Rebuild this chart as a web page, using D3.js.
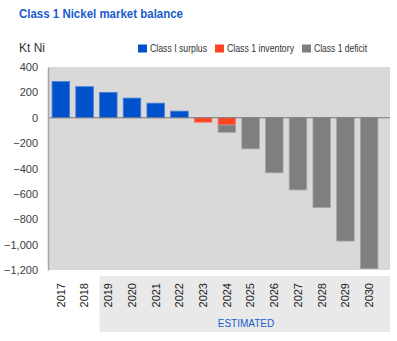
<!DOCTYPE html>
<html>
<head>
<meta charset="utf-8">
<script src="https://cdn.jsdelivr.net/npm/d3@7"></script>
<style>
  body { margin: 0; background: #fff; }
  svg { display: block; font-family: "Liberation Sans", Arial, sans-serif; }
</style>
</head>
<body>
<div id="chart"></div>
<script>
const years = ["2017","2018","2019","2020","2021","2022","2023","2024","2025","2026","2027","2028","2029","2030"];
const surplus   = [285, 245, 200, 155, 115, 52, 0, 0, 0, 0, 0, 0, 0, 0];
const inventory = [0, 0, 0, 0, 0, 0, -35, -57, 0, 0, 0, 0, 0, 0];
const deficit   = [0, 0, 0, 0, 0, 0, 0, -58, -245, -434, -569, -708, -972, -1190];
const yTicks = [400, 200, 0, -200, -400, -600, -800, -1000, -1200];
const seriesNames = ["Class I surplus", "Class 1 inventory", "Class 1 deficit"];
const colors = ["#0052cc", "#ff4422", "#7f7f7f"];
const estimatedFrom = "2019";

const W = 397, H = 341;
const plot = {left: 48, right: 390, top: 67, bottom: 270};

const svg = d3.select("#chart").append("svg")
    .attr("width", W)
    .attr("height", H);

// title
svg.append("text")
    .attr("x", 19).attr("y", 18)
    .attr("font-size", 12).attr("font-weight", "bold")
    .attr("fill", "#1a5ccc")
    .attr("textLength", 164).attr("lengthAdjust", "spacingAndGlyphs")
    .text("Class 1 Nickel market balance");

svg.append("text")
    .attr("x", 19).attr("y", 52)
    .attr("font-size", 12).attr("fill", "#333")
    .text("Kt Ni");

// legend
const legendX = [138, 215, 302];
const legendW = [57, 67, 53];
seriesNames.forEach((name, i) => {
    svg.append("rect")
        .attr("x", legendX[i]).attr("y", 44.5)
        .attr("width", 9).attr("height", 8)
        .attr("fill", colors[i]);
    svg.append("text")
        .attr("x", legendX[i] + 12).attr("y", 52)
        .attr("font-size", 10).attr("fill", "#333")
        .attr("textLength", legendW[i]).attr("lengthAdjust", "spacingAndGlyphs")
        .text(name);
});

const x = d3.scaleBand()
    .domain(years)
    .range([49, 381])
    .paddingInner(0.26)
    .paddingOuter(0.13);

const y = d3.scaleLinear()
    .domain([-1200, 400])
    .range([plot.bottom, plot.top]);

// estimated box
const boxX = x(estimatedFrom);
svg.append("rect")
    .attr("x", boxX)
    .attr("y", 276)
    .attr("width", plot.right - boxX)
    .attr("height", 56)
    .attr("fill", "#e9e9e9");

svg.append("text")
    .attr("x", 246).attr("y", 327)
    .attr("text-anchor", "middle")
    .attr("font-size", 10).attr("fill", "#1a5ccc")
    .text("ESTIMATED");

// plot background
svg.append("rect")
    .attr("x", plot.left).attr("y", plot.top)
    .attr("width", plot.right - plot.left)
    .attr("height", plot.bottom - plot.top)
    .attr("fill", "#d9d9d9");

// stacked bars
const table = years.map((yr, i) => ({year: yr, s: surplus[i], inv: inventory[i], d: deficit[i]}));
const stacked = d3.stack()
    .keys(["s", "inv", "d"])
    .offset(d3.stackOffsetDiverging)(table);

const strokes = ["#4d7fd6", "#ff7a66", "#a6a6a6"];
svg.append("g")
    .selectAll("g")
    .data(stacked)
    .join("g")
    .attr("fill", (d, i) => colors[i])
    .attr("stroke", (d, i) => strokes[i])
    .attr("stroke-width", 0.8)
    .selectAll("rect")
    .data(d => d.filter(p => p[1] - p[0] !== 0))
    .join("rect")
    .attr("x", d => x(d.data.year))
    .attr("width", x.bandwidth())
    .attr("y", d => y(Math.max(d[0], d[1])))
    .attr("height", d => Math.abs(y(d[0]) - y(d[1])));

// zero line
svg.append("line")
    .attr("x1", plot.left).attr("x2", plot.right)
    .attr("y1", y(0)).attr("y2", y(0))
    .attr("stroke", "#777").attr("stroke-width", 1);

// y axis
const yAxis = svg.append("g")
    .attr("transform", `translate(${plot.left},0)`)
    .call(d3.axisLeft(y).tickValues(yTicks).tickSize(0).tickPadding(10).tickFormat(d3.format(",")));
yAxis.select(".domain").attr("stroke", "#a6a6a6").attr("stroke-width", 1.5);
yAxis.selectAll("text")
    .attr("font-size", 11)
    .attr("font-family", "Liberation Sans, Arial, sans-serif")
    .attr("fill", "#404040");

// x axis labels
const xAxis = svg.append("g")
    .attr("transform", `translate(0,${plot.bottom})`)
    .call(d3.axisBottom(x).tickSize(0).tickPadding(0));
xAxis.select(".domain").remove();
xAxis.selectAll("text")
    .attr("font-size", 11)
    .attr("font-family", "Liberation Sans, Arial, sans-serif")
    .attr("fill", "#222")
    .attr("transform", "rotate(-90)")
    .attr("text-anchor", "end")
    .attr("x", -13)
    .attr("y", 0)
    .attr("dy", "0.35em");
</script>
</body>
</html>
